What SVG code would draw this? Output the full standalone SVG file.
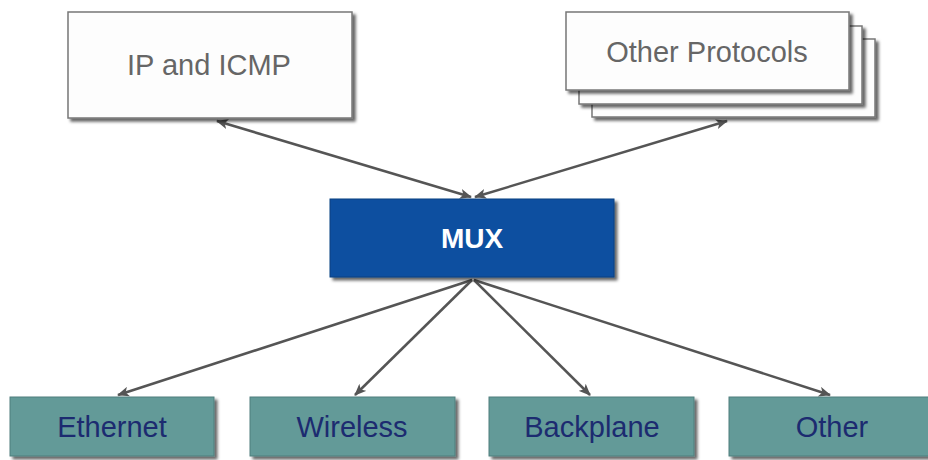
<svg xmlns="http://www.w3.org/2000/svg" width="928" height="460" viewBox="0 0 928 460">
  <defs>
    <filter id="shadow" x="-10%" y="-10%" width="125%" height="130%">
      <feDropShadow dx="3" dy="3" stdDeviation="1.5" flood-color="#000" flood-opacity="0.6"/>
    </filter>
    <marker id="arrow" viewBox="0 0 12 10" refX="11" refY="5" markerWidth="12" markerHeight="10" markerUnits="userSpaceOnUse" orient="auto-start-reverse">
      <path d="M0,0 L12,5 L0,10 L3,5 Z" fill="#555"/>
    </marker>
  </defs>
  <style>
    .proto { fill: #fdfdfd; stroke: #777; stroke-width: 1.5; filter: url(#shadow); }
    .mux { fill: #0b4fa0; stroke: #0a3f80; stroke-width: 1; filter: url(#shadow); }
    .link { fill: #649a98; stroke: #4e7f7d; stroke-width: 1; filter: url(#shadow); }
    .lbl { font-family: "Liberation Sans", Arial, sans-serif; font-size: 29px; text-anchor: middle; }
    .grey { fill: #666; }
    .navy { fill: #1c2b70; }
    .white { fill: #fff; font-weight: bold; font-size: 28px; }
    .edge { stroke: #555; stroke-width: 2.5; fill: none; }
  </style>
  <rect width="928" height="460" fill="#fff"/>

  <g id="connectors">
    <line class="edge" x1="217" y1="121" x2="471" y2="197" marker-start="url(#arrow)" marker-end="url(#arrow)"/>
    <line class="edge" x1="727" y1="121" x2="475" y2="197" marker-start="url(#arrow)" marker-end="url(#arrow)"/>
    <line class="edge" x1="472" y1="280" x2="118" y2="395" marker-end="url(#arrow)"/>
    <line class="edge" x1="472" y1="280" x2="355" y2="395" marker-end="url(#arrow)"/>
    <line class="edge" x1="474" y1="280" x2="590" y2="395" marker-end="url(#arrow)"/>
    <line class="edge" x1="474" y1="280" x2="830" y2="395" marker-end="url(#arrow)"/>
  </g>

  <g id="ip-icmp">
    <rect class="proto" x="68" y="12" width="284" height="106"/>
    <text class="lbl grey" x="209" y="75">IP and ICMP</text>
  </g>

  <g id="other-protocols">
    <rect class="proto" x="592" y="39" width="283" height="78"/>
    <rect class="proto" x="579" y="26" width="283" height="78"/>
    <rect class="proto" x="566" y="12" width="283" height="78"/>
    <text class="lbl grey" x="707" y="62">Other Protocols</text>
  </g>

  <g id="mux">
    <rect class="mux" x="330" y="199" width="284" height="78"/>
    <text class="lbl white" x="472" y="248">MUX</text>
  </g>

  <g id="ethernet">
    <rect class="link" x="10" y="397" width="204" height="59"/>
    <text class="lbl navy" x="112" y="437">Ethernet</text>
  </g>
  <g id="wireless">
    <rect class="link" x="250" y="397" width="205" height="59"/>
    <text class="lbl navy" x="352" y="437">Wireless</text>
  </g>
  <g id="backplane">
    <rect class="link" x="489" y="397" width="205" height="59"/>
    <text class="lbl navy" x="592" y="437">Backplane</text>
  </g>
  <g id="other">
    <rect class="link" x="729" y="397" width="205" height="59"/>
    <text class="lbl navy" x="832" y="437">Other</text>
  </g>
</svg>
